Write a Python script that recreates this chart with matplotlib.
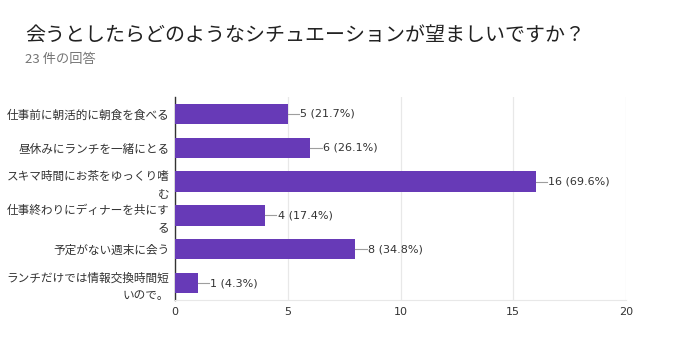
import matplotlib.pyplot as plt

plt.rcParams['font.family'] = ['Noto Sans CJK JP', 'DejaVu Sans']

labels = [
    "仕事前に朝活的に朝食を食べる",
    "昼休みにランチを一緒にとる",
    "スキマ時間にお茶をゆっくり嗜\nむ",
    "仕事終わりにディナーを共にす\nる",
    "予定がない週末に会う",
    "ランチだけでは情報交換時間短\nいので。",
]
counts = [5, 6, 16, 4, 8, 1]
pcts = [21.7, 26.1, 69.6, 17.4, 34.8, 4.3]
xticks = [0, 5, 10, 15, 20]

fig = plt.figure(figsize=(6.96, 3.61), dpi=100)
ax = fig.add_axes([175 / 696, 1 - 300 / 361, 451 / 696, 203 / 361])

ypos = list(range(len(labels)))
ax.barh(ypos, counts, height=0.6, color='#673AB7', zorder=3)

for y, c, p in zip(ypos, counts, pcts):
    ax.plot([c, c + 0.5], [y, y], color='#9e9e9e', lw=0.8, zorder=3)
    ax.text(c + 0.55, y, f"{c} ({p}%)", va='center', ha='left',
            fontsize=8, color='#333333', family=['DejaVu Sans'])

ax.set_xlim(0, 20)
ax.set_ylim(5.5, -0.5)
ax.set_xticks(xticks)
ax.set_xticklabels([str(t) for t in xticks], fontsize=8, color='#333333',
                   family=['DejaVu Sans'])
ax.set_yticks(ypos)
ax.set_yticklabels(labels, fontsize=8.4, color='#333333', linespacing=1.4)
ax.tick_params(axis='y', length=0, pad=4)
ax.tick_params(axis='x', length=0, pad=5)
ax.grid(axis='x', color='#e8e8e8', lw=0.9, zorder=0)

for s in ['top', 'right']:
    ax.spines[s].set_visible(False)
ax.spines['bottom'].set_color('#e8e8e8')
ax.spines['left'].set_color('#333333')
ax.spines['left'].set_linewidth(1.0)

fig.text(25 / 696, 1 - 36 / 361, "会うとしたらどのようなシチュエーションが望ましいですか？",
         fontsize=14.4, color='#212121', va='center', ha='left')
fig.text(25 / 696, 1 - 59 / 361, "23 件の回答", fontsize=9.5, color='#757575',
         va='center', ha='left')

fig.savefig('out.png', dpi=100)
